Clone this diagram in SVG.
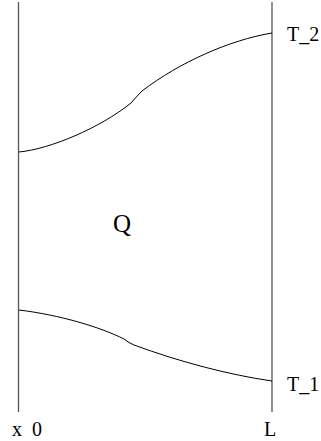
<svg xmlns="http://www.w3.org/2000/svg" width="321" height="441" viewBox="0 0 321 441">
<style>
.axis{stroke:#555;stroke-width:1.3;fill:none}
.curve{stroke:#000;stroke-width:1;fill:none}
.lbl{font-family:"Liberation Serif","DejaVu Serif",serif;font-size:20px;fill:#000}
.dj{font-family:"DejaVu Serif",serif}
</style>
<rect width="321" height="441" fill="#fff"/>
<g id="connectors">
<line class="axis" x1="18.5" y1="2" x2="18.5" y2="412"/>
<line class="axis" x1="272" y1="2" x2="272" y2="412"/>
<path class="curve" d="M19,152 C50,149 100,128 131,103 Q136,97 142,91 C180,62 230,40 272,33"/>
<path class="curve" d="M19,310 C60,315 100,327 124,339 Q129,343 134,345 C180,362 230,375 272,381"/>
</g>
<g id="T2"><text class="lbl" x="287" y="41">T_2</text></g>
<g id="T1"><text class="lbl" x="287" y="391">T_1</text></g>
<g id="Q"><text class="lbl" x="113" y="232" style="font-size:25px">Q</text></g>
<g id="x0"><text class="lbl" x="12" y="436">x <tspan x="32">0</tspan></text></g>
<g id="L"><text class="lbl" x="264" y="436">L</text></g>
</svg>
